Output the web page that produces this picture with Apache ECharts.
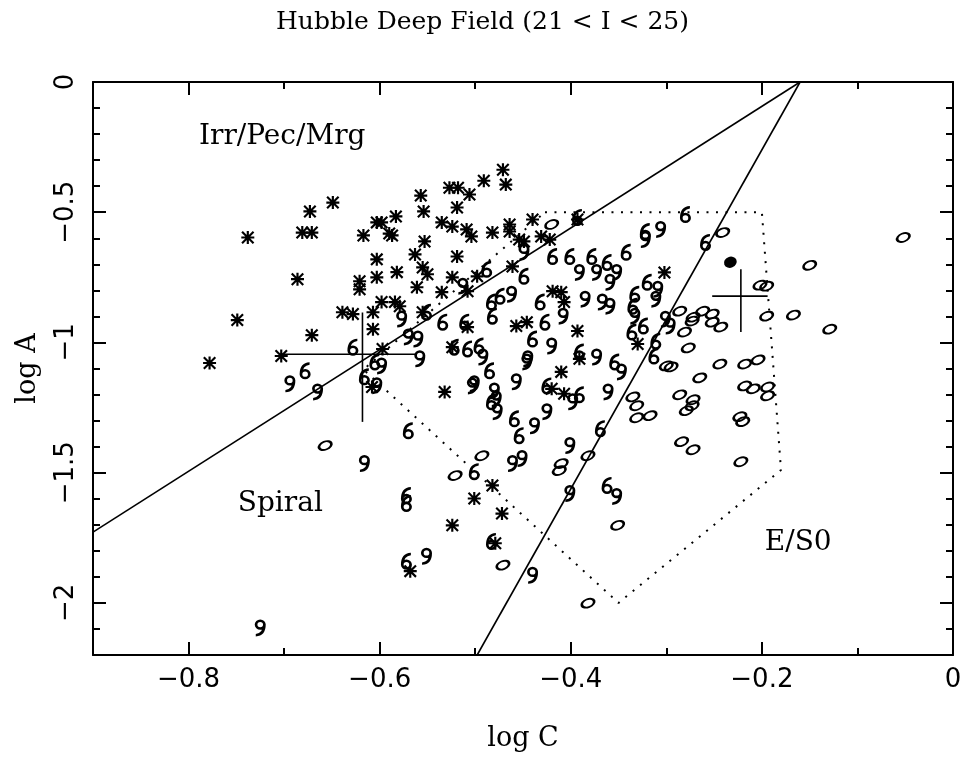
<!DOCTYPE html>
<html>
<head>
<meta charset="utf-8">
<script src="https://cdn.jsdelivr.net/npm/echarts@6/dist/echarts.min.js"></script>
<style>
  html, body { margin: 0; padding: 0; background: #fff; }
  #main { width: 965px; height: 757px; }
</style>
</head>
<body>
<div id="main"></div>
<script>
// log C, log A pairs
const irrPoints = [
  [-0.778,-1.079],[-0.749,-0.914],[-0.738,-0.597],[-0.686,-0.757],[-0.681,-0.578],[-0.671,-0.578],
  [-0.673,-0.497],[-0.649,-0.463],[-0.671,-0.972],[-0.703,-1.052],[-0.617,-0.589],[-0.603,-0.539],
  [-0.603,-0.681],[-0.621,-0.765],[-0.621,-0.796],[-0.603,-0.750],[-0.639,-0.884],[-0.628,-0.891],
  [-0.607,-0.884],[-0.607,-0.949],[-0.608,-1.171],[-0.471,-0.337],[-0.468,-0.394],[-0.491,-0.379],
  [-0.527,-0.406],[-0.518,-0.406],[-0.506,-0.432],[-0.557,-0.436],[-0.554,-0.497],[-0.519,-0.482],
  [-0.583,-0.516],[-0.598,-0.539],[-0.587,-0.589],[-0.590,-0.582],[-0.535,-0.539],[-0.524,-0.555],
  [-0.509,-0.566],[-0.504,-0.593],[-0.482,-0.578],[-0.464,-0.547],[-0.464,-0.574],[-0.454,-0.605],
  [-0.449,-0.612],[-0.553,-0.612],[-0.563,-0.662],[-0.519,-0.670],[-0.555,-0.712],[-0.550,-0.738],
  [-0.582,-0.730],[-0.561,-0.788],[-0.524,-0.750],[-0.535,-0.807],[-0.508,-0.803],[-0.498,-0.746],
  [-0.461,-0.708],[-0.598,-0.845],[-0.584,-0.845],[-0.579,-0.861],[-0.555,-0.884],[-0.597,-1.025],
  [-0.532,-1.190],[-0.524,-1.018],[-0.508,-0.941],[-0.457,-0.937],[-0.440,-0.528],[-0.393,-0.528],
  [-0.431,-0.593],[-0.422,-0.605],[-0.302,-0.731],[-0.419,-0.803],[-0.410,-0.807],[-0.407,-0.845],
  [-0.393,-0.956],[-0.391,-1.063],[-0.410,-1.113],[-0.420,-1.178],[-0.407,-1.197],[-0.330,-1.006],
  [-0.482,-1.549],[-0.501,-1.599],[-0.472,-1.657],[-0.524,-1.702],[-0.479,-1.771],[-0.568,-1.878],
  [-0.446,-0.922]
];

// spiral symbols drawn as "6"
const spiral6Points = [
  [-0.628,-1.018],[-0.678,-1.109],[-0.616,-1.132],[-0.605,-1.075],[-0.570,-1.339],[-0.551,-0.884],
  [-0.534,-0.922],[-0.511,-0.922],[-0.522,-1.018],[-0.508,-1.025],[-0.496,-1.014],[-0.485,-1.109],
  [-0.483,-1.228],[-0.459,-1.293],[-0.454,-1.358],[-0.474,-0.823],[-0.483,-0.845],[-0.482,-0.899],
  [-0.449,-0.746],[-0.488,-0.719],[-0.280,-0.509],[-0.322,-0.574],[-0.259,-0.616],[-0.419,-0.670],
  [-0.401,-0.670],[-0.378,-0.670],[-0.362,-0.693],[-0.342,-0.654],[-0.320,-0.769],[-0.432,-0.845],
  [-0.333,-0.815],[-0.335,-0.861],[-0.427,-0.922],[-0.391,-1.037],[-0.324,-0.937],[-0.336,-0.960],
  [-0.354,-1.075],[-0.311,-0.995],[-0.313,-1.052],[-0.369,-1.331],[-0.501,-1.496],[-0.572,-1.588],
  [-0.572,-1.618],[-0.483,-1.764],[-0.362,-1.549],[-0.572,-1.840],[-0.391,-1.201],[-0.425,-1.167],
  [-0.440,-0.987],[-0.393,-0.520]
];

// spiral symbols drawn as "9"
const spiral9Points = [
  [-0.694,-1.159],[-0.665,-1.190],[-0.616,-1.465],[-0.558,-1.063],[-0.598,-1.090],[-0.603,-1.166],
  [-0.577,-0.910],[-0.570,-0.979],[-0.560,-0.987],[-0.513,-0.784],[-0.492,-1.056],[-0.501,-1.159],
  [-0.480,-1.186],[-0.477,-1.266],[-0.457,-1.151],[-0.462,-0.815],[-0.445,-1.063],[-0.322,-0.605],
  [-0.306,-0.566],[-0.391,-0.731],[-0.373,-0.731],[-0.352,-0.731],[-0.359,-0.769],[-0.309,-0.796],
  [-0.311,-0.834],[-0.385,-0.834],[-0.367,-0.845],[-0.359,-0.861],[-0.333,-0.899],[-0.408,-0.899],
  [-0.420,-1.014],[-0.446,-1.075],[-0.373,-1.056],[-0.347,-1.113],[-0.296,-0.937],[-0.361,-1.190],
  [-0.398,-1.228],[-0.425,-1.266],[-0.438,-1.320],[-0.401,-1.396],[-0.503,-1.167],[-0.478,-1.217],
  [-0.461,-1.465],[-0.451,-1.446],[-0.401,-1.580],[-0.352,-1.591],[-0.551,-1.821],[-0.440,-1.894],
  [-0.725,-2.096],[-0.449,-0.654],[-0.301,-0.911]
];

// E/S0 ellipses
const ellipsePoints = [
  [-0.241,-0.578],[-0.052,-0.597],[-0.150,-0.704],[-0.202,-0.780],[-0.195,-0.784],[-0.286,-0.880],
  [-0.262,-0.880],[-0.252,-0.891],[-0.272,-0.903],[-0.195,-0.899],[-0.167,-0.895],[-0.273,-0.918],
  [-0.252,-0.922],[-0.243,-0.941],[-0.129,-0.949],[-0.281,-0.960],[-0.277,-1.021],[-0.244,-1.083],
  [-0.218,-1.083],[-0.204,-1.067],[-0.300,-1.090],[-0.295,-1.094],[-0.265,-1.136],[-0.218,-1.167],
  [-0.209,-1.178],[-0.194,-1.171],[-0.194,-1.205],[-0.286,-1.201],[-0.272,-1.220],[-0.273,-1.243],
  [-0.279,-1.262],[-0.223,-1.285],[-0.220,-1.304],[-0.284,-1.381],[-0.272,-1.412],[-0.222,-1.458],
  [-0.335,-1.209],[-0.331,-1.243],[-0.331,-1.289],[-0.317,-1.281],[-0.382,-1.435],[-0.410,-1.465],
  [-0.412,-1.492],[-0.351,-1.702],[-0.493,-1.435],[-0.521,-1.511],[-0.420,-0.547],[-0.657,-1.396],
  [-0.471,-1.855],[-0.382,-2.001]
];
const filledPoints = [[-0.233,-0.692]];

// classification boundaries
const irrBoundary = [[-0.9,-1.728],[-0.16,0]];
const ellBoundary = [[-0.16,0],[-0.498,-2.2]];
const dottedBox = [[-0.427,-0.5],[-0.2,-0.5],[-0.18,-1.49],[-0.35,-2.0],[-0.617,-1.104],[-0.427,-0.5]];

// error crosses: [xLow, xHigh, yCentre] and [xCentre, yLow, yHigh]
const crossH = [[-0.704,-0.562,-1.045],[-0.252,-0.194,-0.822]];
const crossV = [[-0.618,-0.885,-1.305],[-0.222,-0.719,-0.960]];

const regionLabels = [['Irr/Pec/Mrg',-0.702,-0.21],['Spiral',-0.704,-1.618],['E/S0',-0.162,-1.77]];

const xMajor = [-0.8,-0.6,-0.4,-0.2,0];
const xMinor = [-0.9,-0.7,-0.5,-0.3,-0.1];
const yMajor = [0,-0.5,-1,-1.5,-2];
const yMinor = [-0.1,-0.2,-0.3,-0.4,-0.6,-0.7,-0.8,-0.9,-1.1,-1.2,-1.3,-1.4,-1.6,-1.7,-1.8,-1.9,-2.1];

const starPath = 'path://M5,0L7,0L7,12L5,12Z M0,1.4L1.4,0L12,10.6L10.6,12Z M10.6,0L12,1.4L1.4,12L0,10.6Z M0,5L12,5L12,7L0,7Z';
const sixPath = 'path://M0.3,11.2A4.7,4.7 0 1 1 9.7,11.2A4.7,4.7 0 1 1 0.3,11.2Z M2.6,11.2A2.4,2.4 0 1 0 7.4,11.2A2.4,2.4 0 1 0 2.6,11.2Z M0.3,11.2Q0.3,0.8 8.8,0.3L8.8,2.5Q2.6,3.2 2.6,11.2Z';

const fmt = v => v === 0 ? '0' : '\u2212' + Math.abs(v);
const black = { color: '#000', width: 2 };
const tickFont = { fontFamily: 'DejaVu Sans', fontSize: 26, color: '#000' };

function makeXAxis(pos, values, len, withLabels) {
  return {
    type: 'value', min: -0.9, max: 0, position: pos,
    axisLine: { show: withLabels !== null, onZero: false, lineStyle: black },
    axisTick: { show: true, inside: true, length: len, customValues: values, lineStyle: black },
    axisLabel: withLabels ? Object.assign({ show: true, customValues: xMajor, formatter: fmt, margin: 12 }, tickFont)
      : { show: false },
    splitLine: { show: false }
  };
}
function makeYAxis(pos, values, len, withLabels) {
  return {
    type: 'value', min: -2.2, max: 0, position: pos,
    axisLine: { show: withLabels !== null, onZero: false, lineStyle: black },
    axisTick: { show: true, inside: true, length: len, customValues: values, lineStyle: black },
    axisLabel: withLabels ? Object.assign({ show: true, customValues: yMajor, formatter: fmt, rotate: 90, margin: 14 }, tickFont)
      : { show: false },
    splitLine: { show: false }
  };
}

const xAxes = [
  makeXAxis('bottom', xMajor, 13, true),
  makeXAxis('bottom', xMinor, 7, null),
  makeXAxis('top', xMajor, 13, false),
  makeXAxis('top', xMinor, 7, null)
];
xAxes[0].name = 'log C';
xAxes[0].nameLocation = 'middle';
xAxes[0].nameGap = 70;
xAxes[0].nameTextStyle = { fontFamily: 'DejaVu Serif', fontSize: 27, color: '#000' };

const yAxes = [
  makeYAxis('left', yMajor, 13, true),
  makeYAxis('left', yMinor, 7, null),
  makeYAxis('right', yMajor, 13, false),
  makeYAxis('right', yMinor, 7, null)
];
yAxes[0].name = 'log A';
yAxes[0].nameLocation = 'middle';
yAxes[0].nameGap = 52;
yAxes[0].nameTextStyle = { fontFamily: 'DejaVu Serif', fontSize: 27, color: '#000' };

const series = [];
series.push({ type: 'line', data: irrBoundary, symbol: 'none', lineStyle: { color: '#000', width: 1.6 } });
series.push({ type: 'line', data: ellBoundary, symbol: 'none', lineStyle: { color: '#000', width: 1.6 } });
series.push({ type: 'line', data: dottedBox, symbol: 'none',
  lineStyle: { color: '#000', width: 2, type: [2, 7.5] } });
crossH.forEach(c => series.push({ type: 'line', symbol: 'none', lineStyle: { color: '#000', width: 1.6 },
  data: [[c[0], c[2]], [c[1], c[2]]] }));
crossV.forEach(c => series.push({ type: 'line', symbol: 'none', lineStyle: { color: '#000', width: 1.6 },
  data: [[c[0], c[1]], [c[0], c[2]]] }));

series.push({ type: 'scatter', data: irrPoints, symbol: starPath, symbolSize: 13,
  itemStyle: { color: '#000', opacity: 1 } });
series.push({ type: 'scatter', data: spiral6Points, symbol: sixPath, symbolSize: [11, 17],
  itemStyle: { color: '#000', opacity: 1 } });
series.push({ type: 'scatter', data: spiral9Points, symbol: sixPath, symbolSize: [11, 17], symbolRotate: 180,
  itemStyle: { color: '#000', opacity: 1 } });
series.push({ type: 'scatter', data: ellipsePoints, symbol: 'circle', symbolSize: [13, 8], symbolRotate: 22,
  itemStyle: { color: 'rgba(0,0,0,0)', borderColor: '#000', borderWidth: 2.2, opacity: 1 } });
series.push({ type: 'scatter', data: filledPoints, symbol: 'circle', symbolSize: [13, 11], symbolRotate: 22,
  itemStyle: { color: '#000', opacity: 1 } });

const chart = echarts.init(document.getElementById('main'));
chart.setOption({
  animation: false,
  backgroundColor: '#fff',
  title: { text: 'Hubble Deep Field (21 < I < 25)', left: 'center', top: 5,
    textStyle: { fontFamily: 'DejaVu Serif', fontSize: 25, fontWeight: 'normal', color: '#000' } },
  grid: { left: 93, right: 12, top: 82, bottom: 100 },
  xAxis: xAxes,
  yAxis: yAxes,
  series: series.map(s => Object.assign({ silent: true, xAxisIndex: 0, yAxisIndex: 0, clip: false }, s))
});

// region names, placed at data coordinates
chart.setOption({
  graphic: regionLabels.map(r => {
    const p = chart.convertToPixel({ gridIndex: 0 }, [r[1], r[2]]);
    return { type: 'text', x: p[0], y: p[1], silent: true,
      style: { text: r[0], fill: '#000', font: '28px "DejaVu Serif"', align: 'center', verticalAlign: 'middle' } };
  })
});
</script>
</body>
</html>
